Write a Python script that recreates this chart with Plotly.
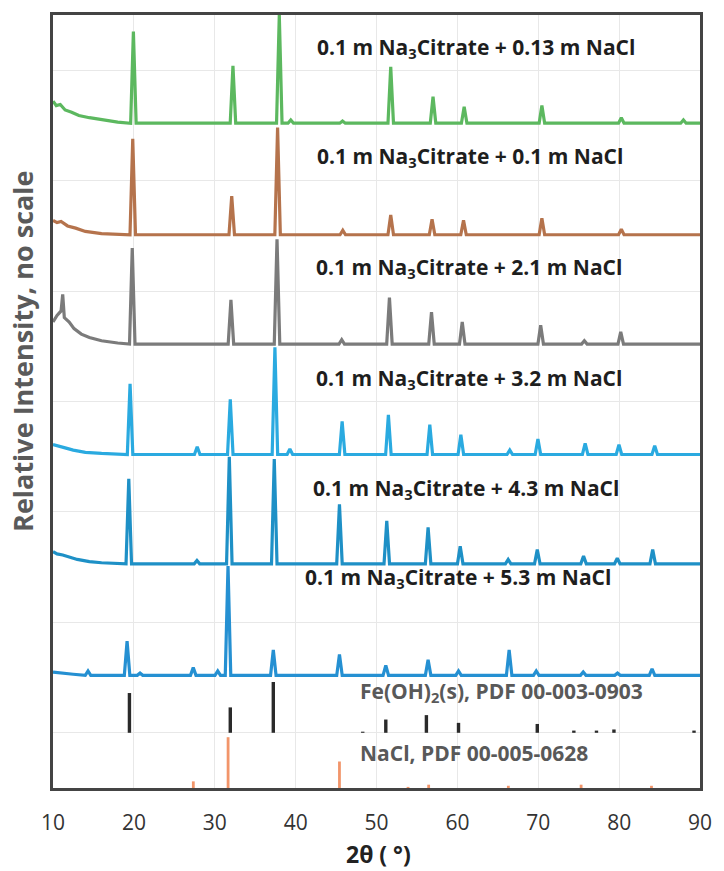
import plotly.graph_objects as go

# ---- XRD patterns: peak positions (2θ, °) and heights (relative, stacked) ----
labels = [
    "0.1 m Na<sub>3</sub>Citrate + 0.13 m NaCl",
    "0.1 m Na<sub>3</sub>Citrate + 0.1 m NaCl",
    "0.1 m Na<sub>3</sub>Citrate + 2.1 m NaCl",
    "0.1 m Na<sub>3</sub>Citrate + 3.2 m NaCl",
    "0.1 m Na<sub>3</sub>Citrate + 4.3 m NaCl",
    "0.1 m Na<sub>3</sub>Citrate + 5.3 m NaCl",
]
offsets = [6.02, 5.01, 4.02, 3.02, 2.03, 1.02]
colors = ["#5CB85F", "#B5734C", "#7B7B7B", "#2AAAE0", "#1E90C6", "#2590D2"]

pos_013 = [19.94, 32.25, 37.98, 39.4, 45.8, 51.76, 56.99, 60.84, 70.45, 80.27, 87.95]
hgt_013 = [0.83, 0.52, 0.98, 0.03, 0.02, 0.51, 0.24, 0.15, 0.16, 0.05, 0.03]
bg_013_x = [10.0, 10.4, 10.9, 11.5, 12.3, 13.2, 14.5, 16.0, 18.0]
bg_013_y = [0.20, 0.16, 0.17, 0.12, 0.10, 0.07, 0.05, 0.03, 0.01]

pos_010 = [19.86, 32.10, 37.77, 45.83, 51.76, 56.87, 60.76, 70.45, 80.27]
hgt_010 = [0.87, 0.35, 0.97, 0.04, 0.18, 0.14, 0.13, 0.15, 0.05]
bg_010_x = [10.0, 10.5, 11.0, 11.8, 12.8, 14.0, 16.0]
bg_010_y = [0.13, 0.11, 0.12, 0.08, 0.06, 0.03, 0.01]

pos_21 = [19.80, 32.00, 37.70, 45.70, 51.60, 56.80, 60.60, 70.30, 75.70, 80.20]
hgt_21 = [0.87, 0.40, 0.95, 0.04, 0.42, 0.29, 0.20, 0.17, 0.03, 0.11]
bg_21_x = [10.0, 10.5, 11.0, 11.2, 11.4, 12.0, 12.6, 13.5, 14.5, 16.0, 18.0]
bg_21_y = [0.20, 0.26, 0.30, 0.45, 0.24, 0.20, 0.14, 0.09, 0.06, 0.03, 0.01]

pos_32 = [19.53, 27.83, 31.92, 37.44, 39.29, 45.75, 51.47, 56.59, 60.43, 66.48, 69.96, 75.80, 79.98, 84.40]
hgt_32 = [0.64, 0.07, 0.50, 0.97, 0.05, 0.30, 0.36, 0.27, 0.18, 0.04, 0.14, 0.10, 0.09, 0.08]
bg_32_x = [10.0, 10.6, 11.5, 12.5, 14.0, 16.0]
bg_32_y = [0.09, 0.08, 0.06, 0.04, 0.02, 0.01]

pos_43 = [19.37, 27.8, 31.80, 37.36, 45.42, 51.27, 56.38, 60.35, 66.28, 69.88, 75.60, 79.77, 84.15]
hgt_43 = [0.77, 0.03, 0.97, 0.95, 0.54, 0.39, 0.33, 0.16, 0.04, 0.13, 0.07, 0.05, 0.13]
bg_43_x = [10.0, 10.5, 11.2, 12.0, 13.0, 14.5, 16.0]
bg_43_y = [0.11, 0.09, 0.08, 0.06, 0.04, 0.02, 0.01]

pos_53 = [14.33, 19.16, 20.76, 27.34, 30.37, 31.64, 37.24, 45.42, 51.15, 56.38, 60.14, 66.40, 69.75, 75.56, 79.80, 84.07]
hgt_53 = [0.04, 0.31, 0.02, 0.07, 0.04, 0.99, 0.23, 0.19, 0.09, 0.14, 0.04, 0.23, 0.04, 0.03, 0.02, 0.06]
bg_53_x = [10.0, 11.0, 12.5]
bg_53_y = [0.03, 0.02, 0.01]

peak_pos = [pos_013, pos_010, pos_21, pos_32, pos_43, pos_53]
peak_hgt = [hgt_013, hgt_010, hgt_21, hgt_32, hgt_43, hgt_53]
bg_x = [bg_013_x, bg_010_x, bg_21_x, bg_32_x, bg_43_x, bg_53_x]
bg_y = [bg_013_y, bg_010_y, bg_21_y, bg_32_y, bg_43_y, bg_53_y]

# ---- reference stick patterns ----
feoh2_pos = [19.45, 31.92, 37.24, 48.3, 51.15, 56.17, 60.14, 69.88, 74.4, 77.2, 79.36, 89.26]
feoh2_hgt = [0.36, 0.23, 0.46, 0.01, 0.12, 0.16, 0.09, 0.08, 0.02, 0.02, 0.03, 0.02]
feoh2_base = 0.50

nacl_pos = [27.35, 31.65, 45.42, 53.9, 56.45, 66.3, 75.3, 84.0]
nacl_hgt = [0.06, 0.46, 0.24, 0.01, 0.03, 0.02, 0.03, 0.02]
nacl_base = 0.0

x_ticks = [10, 20, 30, 40, 50, 60, 70, 80, 90]

HALF_W = 0.34  # half base width of a drawn peak, in degrees
FONT = "Open Sans"


def pattern_xy(px, ph, bx, by, base):
    xs, ys = [], []
    for x, y in zip(bx, by):
        xs.append(x)
        ys.append(base + y)
    for p, h in zip(px, ph):
        xs += [p - HALF_W, p, p + HALF_W]
        ys += [base, base + h, base]
    xs.append(90.0)
    ys.append(base)
    order = sorted(range(len(xs)), key=lambda i: xs[i])
    return [xs[i] for i in order], [ys[i] for i in order]


def sticks_xy(px, ph, base):
    xs, ys = [], []
    for p, h in zip(px, ph):
        xs += [p, p, None]
        ys += [base, base + h, None]
    return xs, ys


fig = go.Figure()

for i in range(len(labels)):
    xs, ys = pattern_xy(peak_pos[i], peak_hgt[i], bg_x[i], bg_y[i], offsets[i])
    fig.add_trace(go.Scatter(x=xs, y=ys, mode="lines",
                             line=dict(color=colors[i], width=3.2),
                             hoverinfo="skip", showlegend=False))

sx, sy = sticks_xy(feoh2_pos, feoh2_hgt, feoh2_base)
fig.add_trace(go.Scatter(x=sx, y=sy, mode="lines",
                         line=dict(color="#2A2A2A", width=3.4),
                         hoverinfo="skip", showlegend=False))
sx, sy = sticks_xy(nacl_pos, nacl_hgt, nacl_base)
fig.add_trace(go.Scatter(x=sx, y=sy, mode="lines",
                         line=dict(color="#F2956A", width=2.8),
                         hoverinfo="skip", showlegend=False))

# sample labels
label_x = [42.4, 42.4, 42.3, 42.3, 41.9, 40.9]
label_y = [6.70, 5.71, 4.71, 3.70, 2.71, 1.90]
annotations = []
for i, txt in enumerate(labels):
    annotations.append(dict(x=label_x[i], y=label_y[i], xref="x", yref="y",
                            text="<b>" + txt + "</b>", showarrow=False,
                            xanchor="left", yanchor="middle",
                            font=dict(family=FONT, size=21, color="#1E1E1E")))
annotations.append(dict(x=47.67, y=0.87, xref="x", yref="y",
                        text="<b>Fe(OH)<sub>2</sub>(s), PDF 00-003-0903</b>", showarrow=False,
                        xanchor="left", yanchor="middle",
                        font=dict(family=FONT, size=21, color="#595959")))
annotations.append(dict(x=47.67, y=0.32, xref="x", yref="y",
                        text="<b>NaCl, PDF 00-005-0628</b>", showarrow=False,
                        xanchor="left", yanchor="middle",
                        font=dict(family=FONT, size=21, color="#595959")))
# axis titles (positioned in pixels, converted to paper coords below)
annotations.append(dict(x=22, y=350, xref="paper", yref="paper",
                        text="<b>Relative Intensity, no scale</b>",
                        showarrow=False, textangle=-90, xanchor="center", yanchor="middle",
                        font=dict(family=FONT, size=27, color="#5A5A5A")))
annotations.append(dict(x=381, y=854, xref="paper", yref="paper", text="<b>2θ ( °)</b>",
                        showarrow=False, xanchor="center", yanchor="middle",
                        font=dict(family=FONT, size=23, color="#222222")))

W, H = 724, 871
ML, MR, MT, MB = 53, 19, 12, 83
pw, ph_ = W - ML - MR, H - MT - MB
for a in annotations[-2:]:
    a["x"] = (a["x"] - ML) / pw
    a["y"] = (H - MB - a["y"]) / ph_

fig.update_layout(
    width=W, height=H,
    margin=dict(l=ML, r=MR, t=MT, b=MB),
    paper_bgcolor="white", plot_bgcolor="white",
    annotations=annotations,
    xaxis=dict(range=[10, 90], tickvals=x_ticks, ticks="", showgrid=True,
               gridcolor="#E8E8E8", gridwidth=1, zeroline=False,
               showline=True, linecolor="#444444", linewidth=3, mirror=True,
               tickfont=dict(family=FONT, size=21, color="#333333"), ticklabelstandoff=14),
    yaxis=dict(range=[0, 7], tick0=0.5, dtick=1, showticklabels=False, ticks="",
               showgrid=True, gridcolor="#E8E8E8", gridwidth=1, zeroline=False,
               showline=True, linecolor="#444444", linewidth=3, mirror=True),
)

fig.write_html("out.html")
